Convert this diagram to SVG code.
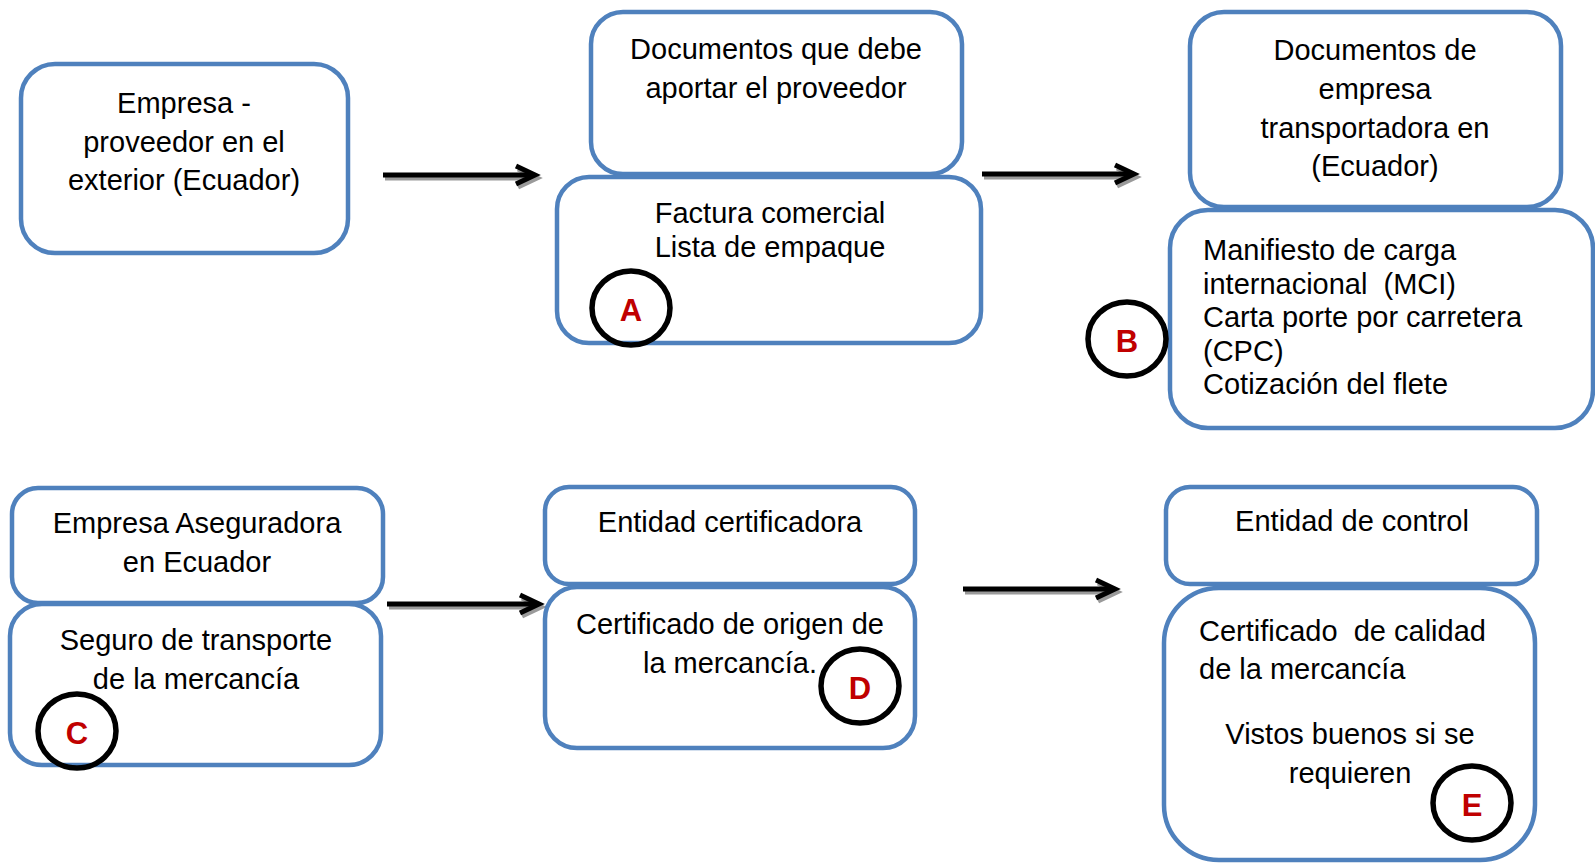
<svg xmlns="http://www.w3.org/2000/svg" width="1595" height="863" viewBox="0 0 1595 863">
  <style>
    .box { fill: #ffffff; stroke: #4F81BD; stroke-width: 4.5; }
    .t { font-family: "Liberation Sans", Arial, sans-serif; font-size: 29px; fill: #000000; }
    .c { text-anchor: middle; }
    .mark { fill: none; stroke: #000000; stroke-width: 5.5; }
    .ml { font-family: "Liberation Sans", Arial, sans-serif; font-size: 31px; font-weight: bold; fill: #C00000; text-anchor: middle; }
  </style>
  <defs>
    <!-- horizontal arrow, 154 px long, with a soft grey drop shadow -->
    <g id="arrow">
      <g fill="none" stroke="#9a9a9a" stroke-width="5" stroke-linejoin="miter" transform="translate(2,3)">
        <path d="M0 0 H151"/>
        <path d="M133 -9 L152 0 L133 9"/>
      </g>
      <g fill="none" stroke="#000000" stroke-width="5" stroke-linejoin="miter">
        <path d="M0 0 H151"/>
        <path d="M133 -9 L152 0 L133 9"/>
      </g>
    </g>
  </defs>

  <g id="connectors">
    <use href="#arrow" transform="translate(383,175)"/>
    <use href="#arrow" transform="translate(982,174)"/>
    <use href="#arrow" transform="translate(387,604)"/>
    <use href="#arrow" transform="translate(963,589)"/>
  </g>

  <g id="proveedor">
    <rect class="box" x="21" y="64" width="327" height="189" rx="34"/>
    <text class="t c" x="184" y="113">Empresa -</text>
    <text class="t c" x="184" y="151.5">proveedor en el</text>
    <text class="t c" x="184" y="190">exterior (Ecuador)</text>
  </g>

  <g id="docs-proveedor">
    <rect class="box" x="591" y="12" width="371" height="162" rx="32"/>
    <text class="t c" x="776" y="59">Documentos que debe</text>
    <text class="t c" x="776" y="97.5">aportar el proveedor</text>
  </g>

  <g id="factura">
    <rect class="box" x="557" y="177" width="424" height="166" rx="32"/>
    <text class="t c" x="770" y="223">Factura comercial</text>
    <text class="t c" x="770" y="256.5">Lista de empaque</text>
  </g>

  <g id="docs-transportadora">
    <rect class="box" x="1190" y="12" width="371" height="195" rx="34"/>
    <text class="t c" x="1375" y="60">Documentos de</text>
    <text class="t c" x="1375" y="99">empresa</text>
    <text class="t c" x="1375" y="137.5">transportadora en</text>
    <text class="t c" x="1375" y="176">(Ecuador)</text>
  </g>

  <g id="manifiesto">
    <rect class="box" x="1170" y="210" width="423" height="218" rx="38"/>
    <text class="t" x="1203" y="260">Manifiesto de carga</text>
    <text class="t" x="1203" y="293.5" xml:space="preserve">internacional  (MCI)</text>
    <text class="t" x="1203" y="327">Carta porte por carretera</text>
    <text class="t" x="1203" y="360.5">(CPC)</text>
    <text class="t" x="1203" y="394">Cotización del flete</text>
  </g>

  <g id="aseguradora">
    <rect class="box" x="12" y="488" width="371" height="115" rx="26"/>
    <text class="t c" x="197" y="533">Empresa Aseguradora</text>
    <text class="t c" x="197" y="571.5">en Ecuador</text>
  </g>

  <g id="seguro">
    <rect class="box" x="10" y="604" width="371" height="161" rx="32"/>
    <text class="t c" x="196" y="650">Seguro de transporte</text>
    <text class="t c" x="196" y="688.5">de la mercancía</text>
  </g>

  <g id="certificadora">
    <rect class="box" x="545" y="487" width="370" height="97" rx="24"/>
    <text class="t c" x="730" y="532">Entidad certificadora</text>
  </g>

  <g id="origen">
    <rect class="box" x="545" y="587" width="370" height="161" rx="32"/>
    <text class="t c" x="730" y="633.5">Certificado de origen de</text>
    <text class="t c" x="730" y="673">la mercancía.</text>
  </g>

  <g id="control">
    <rect class="box" x="1166" y="487" width="371" height="97" rx="24"/>
    <text class="t c" x="1352" y="531">Entidad de control</text>
  </g>

  <g id="calidad">
    <rect class="box" x="1164" y="588" width="371" height="272" rx="55"/>
    <text class="t" x="1199" y="640.5" xml:space="preserve">Certificado  de calidad</text>
    <text class="t" x="1199" y="679">de la mercancía</text>
    <text class="t c" x="1350" y="743.5">Vistos buenos si se</text>
    <text class="t c" x="1350" y="783">requieren</text>
  </g>

  <g id="mark-a">
    <ellipse class="mark" cx="631" cy="308" rx="39" ry="37"/>
    <text class="ml" x="631" y="321">A</text>
  </g>
  <g id="mark-b">
    <ellipse class="mark" cx="1127" cy="339" rx="39" ry="37"/>
    <text class="ml" x="1127" y="352">B</text>
  </g>
  <g id="mark-c">
    <ellipse class="mark" cx="77" cy="731" rx="39" ry="37"/>
    <text class="ml" x="77" y="744">C</text>
  </g>
  <g id="mark-d">
    <ellipse class="mark" cx="860" cy="686" rx="39" ry="37"/>
    <text class="ml" x="860" y="699">D</text>
  </g>
  <g id="mark-e">
    <ellipse class="mark" cx="1472" cy="803" rx="39" ry="37"/>
    <text class="ml" x="1472" y="816">E</text>
  </g>
</svg>
